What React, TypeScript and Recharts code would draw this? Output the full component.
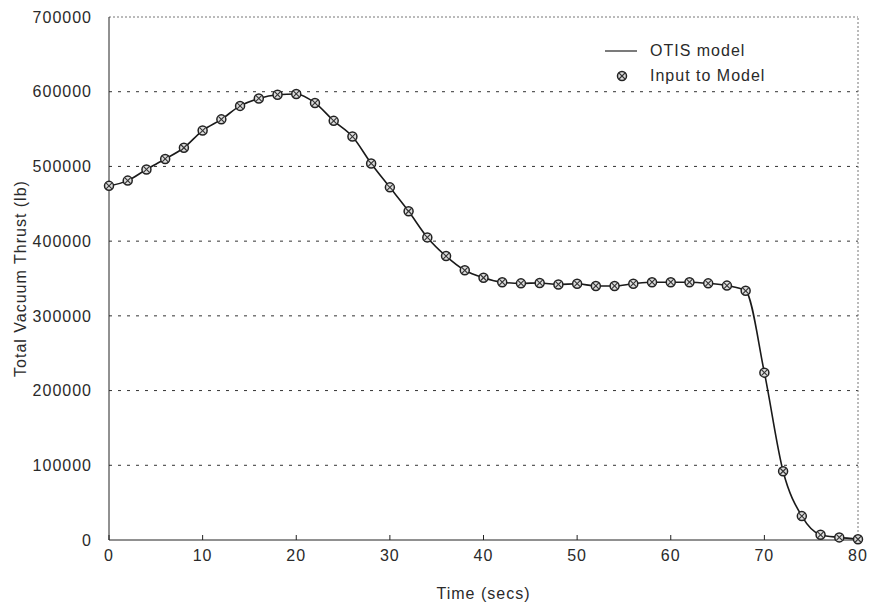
import { LineChart, Line, XAxis, YAxis, CartesianGrid, ReferenceLine } from 'recharts'

const timeSecs = [0, 2, 4, 6, 8, 10, 12, 14, 16, 18, 20, 22, 24, 26, 28, 30, 32, 34, 36, 38, 40,
  42, 44, 46, 48, 50, 52, 54, 56, 58, 60, 62, 64, 66, 68, 70, 72, 74, 76, 78, 80]

const thrustLb = [474000, 481000, 496000, 510000, 525000, 548000, 563000, 581000, 591000, 596000,
  597000, 585000, 561000, 540000, 504000, 472000, 440000, 405000, 380000, 361000, 351000,
  345000, 343500, 344000, 342000, 343000, 340000, 340000, 343000, 345000, 345000, 345000,
  343500, 340500, 333500, 224000, 92000, 32000, 7000, 3500, 1000]

const xTicks = [0, 10, 20, 30, 40, 50, 60, 70, 80]
const yTicks = [0, 100000, 200000, 300000, 400000, 500000, 600000, 700000]

const seriesNames = ['OTIS model', 'Input to Model']

const chartData = timeSecs.map((t, i) => ({ t, thrust: thrustLb[i] }))

const font = 'Liberation Sans, Arial, sans-serif'
const textColor = '#2a2a2a'

// circle-with-cross marker used for the input points
function InputMarker(props: any) {
  const { cx, cy } = props
  if (cx == null || cy == null) return null
  return (
    <g>
      <circle cx={cx} cy={cy} r={4.5} fill="#ddd" stroke="#222" strokeWidth={1.5} />
      <line x1={cx - 3} y1={cy - 3} x2={cx + 3} y2={cy + 3} stroke="#333" strokeWidth={1.1} />
      <line x1={cx - 3} y1={cy + 3} x2={cx + 3} y2={cy - 3} stroke="#333" strokeWidth={1.1} />
    </g>
  )
}

function ChartLegend() {
  return (
    <div style={{ position: 'absolute', left: 604, top: 38, fontFamily: font, fontSize: 16, letterSpacing: 1, color: textColor, lineHeight: '25px' }}>
      <div style={{ display: 'flex', alignItems: 'center' }}>
        <svg width={46} height={10}><line x1={1} y1={5} x2={33} y2={5} stroke="#333" strokeWidth={1.3} /></svg>
        <span>{seriesNames[0]}</span>
      </div>
      <div style={{ display: 'flex', alignItems: 'center' }}>
        <svg width={46} height={12}><InputMarker cx={18} cy={6} /></svg>
        <span>{seriesNames[1]}</span>
      </div>
    </div>
  )
}

export default function App() {
  const tickStyle = { fontSize: 16, fill: textColor, fontFamily: font, letterSpacing: 1 }
  return (
    <div style={{ position: 'absolute', left: 0, top: 0, width: 875, height: 609, background: '#fff' }}>
      <LineChart
        width={875}
        height={609}
        data={chartData}
        margin={{ top: 17, right: 17, left: 0, bottom: 0 }}
      >
        <CartesianGrid vertical={false} stroke="#333" strokeDasharray="3 6" horizontalValues={[100000, 200000, 300000, 400000, 500000, 600000]} />
        <ReferenceLine y={700000} stroke="#777" strokeDasharray="2 2" />
        <ReferenceLine x={80} stroke="#777" strokeDasharray="2 2" />
        <XAxis
          dataKey="t"
          type="number"
          domain={[0, 80]}
          ticks={xTicks}
          height={69}
          stroke="#222"
          tick={tickStyle}
          tickSize={-5}
          tickMargin={15}
          label={{ value: 'Time (secs)', position: 'insideBottom', offset: 10, style: { fontSize: 16, fill: textColor, fontFamily: font, letterSpacing: 1 } }}
        />
        <YAxis
          type="number"
          domain={[0, 700000]}
          ticks={yTicks}
          width={109}
          stroke="#222"
          tick={tickStyle}
          tickLine={false}
          tickMargin={11}
          label={{ value: 'Total Vacuum Thrust (lb)', angle: -90, position: 'insideLeft', offset: 20, style: { fontSize: 16, fill: textColor, fontFamily: font, letterSpacing: 1, textAnchor: 'middle' } }}
        />
        <Line
          dataKey="thrust"
          name={seriesNames[0]}
          type="monotone"
          stroke="#1a1a1a"
          strokeWidth={1.6}
          dot={false}
          isAnimationActive={false}
        />
        <Line
          dataKey="thrust"
          name={seriesNames[1]}
          type="monotone"
          stroke="none"
          dot={<InputMarker />}
          activeDot={false}
          isAnimationActive={false}
        />
      </LineChart>
      <ChartLegend />
    </div>
  )
}
